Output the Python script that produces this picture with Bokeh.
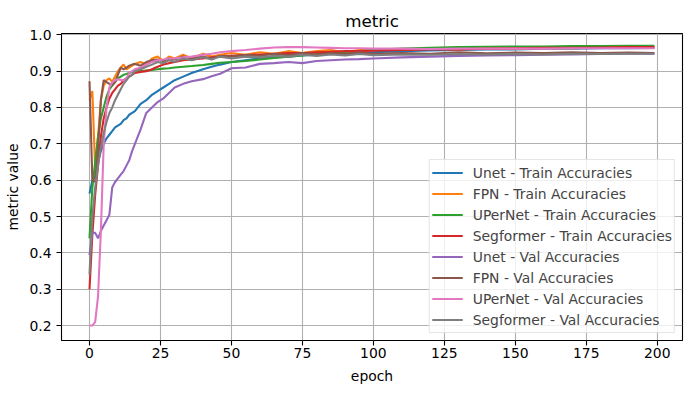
from bokeh.plotting import figure
from bokeh.models import Range1d, FixedTicker, Legend, LegendItem
from bokeh.embed import file_html
from bokeh.resources import INLINE

epochs = [0, 1, 2, 3, 4, 5, 6, 7, 8, 9, 10, 11, 12, 13, 14, 15, 16, 18, 20, 22, 24, 26, 28, 30,
          33, 36, 40, 43, 46, 50, 55, 60, 65, 70, 75, 80, 85, 90, 95, 100,
          110, 120, 130, 140, 150, 160, 170, 180, 190, 199]

unet_train = [0.563, 0.60, 0.61, 0.65, 0.68, 0.70, 0.715, 0.725, 0.735, 0.745, 0.75, 0.755, 0.765, 0.77, 0.78, 0.785, 0.79,
              0.81, 0.82, 0.835, 0.845, 0.855, 0.865, 0.875, 0.885, 0.895, 0.905, 0.912, 0.918, 0.925, 0.93, 0.935,
              0.938, 0.94, 0.943, 0.945, 0.947, 0.948, 0.95, 0.952, 0.955, 0.957, 0.958, 0.96, 0.96, 0.962, 0.962,
              0.963, 0.963, 0.964]
fpn_train = [0.82, 0.845, 0.63, 0.72, 0.82, 0.86, 0.875, 0.88, 0.87, 0.885, 0.90, 0.91, 0.918, 0.905, 0.91, 0.915, 0.92,
             0.925, 0.918, 0.935, 0.94, 0.928, 0.94, 0.935, 0.945, 0.935, 0.948, 0.94, 0.945, 0.95, 0.945, 0.952,
             0.948, 0.955, 0.95, 0.955, 0.958, 0.952, 0.958, 0.96, 0.958, 0.962, 0.96, 0.963, 0.962, 0.964, 0.963,
             0.965, 0.964, 0.965]
upernet_train = [0.44, 0.58, 0.65, 0.72, 0.77, 0.80, 0.83, 0.85, 0.86, 0.87, 0.88, 0.885, 0.89, 0.892, 0.895, 0.897, 0.898,
                 0.90, 0.902, 0.903, 0.905, 0.907, 0.908, 0.91, 0.912, 0.914, 0.917, 0.92, 0.923, 0.925, 0.928, 0.932,
                 0.936, 0.94, 0.943, 0.947, 0.95, 0.953, 0.955, 0.958, 0.962, 0.964, 0.966, 0.967, 0.968, 0.968, 0.969,
                 0.969, 0.97, 0.97]
segformer_train = [0.30, 0.45, 0.56, 0.64, 0.72, 0.77, 0.80, 0.825, 0.84, 0.85, 0.86, 0.865, 0.875, 0.88, 0.885, 0.89, 0.895,
                   0.898, 0.90, 0.905, 0.912, 0.918, 0.922, 0.925, 0.93, 0.932, 0.935, 0.938, 0.94, 0.942, 0.944, 0.946,
                   0.948, 0.95, 0.95, 0.952, 0.953, 0.955, 0.955, 0.956, 0.958, 0.96, 0.96, 0.962, 0.963, 0.964, 0.964,
                   0.965, 0.966, 0.966]
unet_val = [0.394, 0.456, 0.455, 0.44, 0.46, 0.475, 0.49, 0.505, 0.58, 0.595, 0.605, 0.615, 0.625, 0.64, 0.655, 0.68, 0.70,
            0.74, 0.785, 0.80, 0.815, 0.825, 0.84, 0.855, 0.865, 0.872, 0.878, 0.886, 0.893, 0.908, 0.91, 0.92,
            0.922, 0.925, 0.922, 0.928, 0.93, 0.932, 0.933, 0.935, 0.938, 0.94, 0.942, 0.943, 0.944, 0.945, 0.946,
            0.947, 0.948, 0.948]
fpn_val = [0.872, 0.60, 0.595, 0.68, 0.82, 0.875, 0.87, 0.865, 0.862, 0.87, 0.89, 0.91, 0.905, 0.91, 0.915, 0.918, 0.92,
           0.915, 0.925, 0.93, 0.932, 0.928, 0.935, 0.932, 0.94, 0.935, 0.94, 0.935, 0.942, 0.94, 0.945, 0.942,
           0.948, 0.944, 0.95, 0.946, 0.95, 0.947, 0.952, 0.948, 0.95, 0.948, 0.952, 0.949, 0.951, 0.95, 0.952,
           0.95, 0.951, 0.95]
upernet_val = [0.20, 0.20, 0.21, 0.28, 0.46, 0.70, 0.80, 0.855, 0.87, 0.875, 0.878, 0.876, 0.874, 0.88, 0.895, 0.90, 0.905,
               0.91, 0.918, 0.925, 0.93, 0.932, 0.935, 0.935, 0.938, 0.94, 0.945, 0.948, 0.952, 0.955, 0.958, 0.962,
               0.965, 0.966, 0.966, 0.965, 0.964, 0.963, 0.963, 0.962, 0.962, 0.961, 0.962, 0.962, 0.962, 0.962, 0.963,
               0.963, 0.963, 0.963]
segformer_val = [0.34, 0.50, 0.58, 0.64, 0.69, 0.73, 0.76, 0.785, 0.80, 0.82, 0.835, 0.85, 0.865, 0.875, 0.885, 0.89, 0.90,
                 0.905, 0.912, 0.918, 0.925, 0.922, 0.93, 0.926, 0.935, 0.93, 0.938, 0.932, 0.94, 0.935, 0.94, 0.938,
                 0.942, 0.94, 0.945, 0.942, 0.946, 0.943, 0.947, 0.944, 0.946, 0.945, 0.947, 0.946, 0.947, 0.946, 0.948,
                 0.947, 0.948, 0.948]

series = [
    ("Unet - Train Accuracies", unet_train, "#1f77b4"),
    ("FPN - Train Accuracies", fpn_train, "#ff7f0e"),
    ("UPerNet - Train Accuracies", upernet_train, "#2ca02c"),
    ("Segformer - Train Accuracies", segformer_train, "#d62728"),
    ("Unet - Val Accuracies", unet_val, "#9467bd"),
    ("FPN - Val Accuracies", fpn_val, "#8c564b"),
    ("UPerNet - Val Accuracies", upernet_val, "#e377c2"),
    ("Segformer - Val Accuracies", segformer_val, "#7f7f7f"),
]

x_ticks = [0, 25, 50, 75, 100, 125, 150, 175, 200]
y_ticks = [0.2, 0.3, 0.4, 0.5, 0.6, 0.7, 0.8, 0.9, 1.0]

FONT = "DejaVu Sans"
FS = "13.9px"

p = figure(width=690, height=392, output_backend="svg", toolbar_location=None,
           x_range=Range1d(-9.87, 208.9), y_range=Range1d(0.1588, 1.0036),
           min_border_left=61, min_border_right=8, min_border_top=33, min_border_bottom=52,
           title="metric")
p.title.align = "center"
p.title.text_font = FONT
p.title.text_font_size = "16.7px"
p.title.text_font_style = "normal"
p.title.text_color = "black"
p.title.offset = 0
p.title.standoff = 5

p.outline_line_color = "black"
p.outline_line_width = 1.1
p.outline_line_alpha = 1

for ax in (p.xaxis[0], p.yaxis[0]):
    ax.axis_line_color = None
    ax.major_tick_line_color = "black"
    ax.major_tick_line_width = 1.1
    ax.major_tick_out = 5
    ax.major_tick_in = 0
    ax.minor_tick_line_color = None
    ax.major_label_text_font = FONT
    ax.major_label_text_font_size = FS
    ax.major_label_text_color = "black"
    ax.axis_label_text_font = FONT
    ax.axis_label_text_font_size = FS
    ax.axis_label_text_font_style = "normal"
    ax.axis_label_text_color = "black"

p.xaxis.ticker = FixedTicker(ticks=x_ticks)
p.yaxis.ticker = FixedTicker(ticks=y_ticks)
p.yaxis.major_label_overrides = {v: f"{v:.1f}" for v in y_ticks}
p.xaxis.axis_label = "epoch"
p.yaxis.axis_label = "metric value"
p.xaxis.major_label_standoff = 2
p.yaxis.major_label_standoff = 5
p.xaxis.axis_label_standoff = 7
p.yaxis.axis_label_standoff = 5

p.xgrid.ticker = FixedTicker(ticks=x_ticks)
p.ygrid.ticker = FixedTicker(ticks=y_ticks)
p.grid.grid_line_color = "#b0b0b0"
p.grid.grid_line_width = 1.1

items = []
for name, vals, color in series:
    r = p.line(epochs, vals, line_color=color, line_width=2.1)
    items.append(LegendItem(label=name, renderers=[r]))

legend = Legend(items=items, location="bottom_right")
legend.label_text_font = FONT
legend.label_text_font_size = FS
legend.glyph_width = 31
legend.glyph_height = 21
legend.label_height = 21
legend.spacing = 0
legend.padding = 2
legend.margin = 7
legend.label_standoff = 10
legend.border_line_color = "#cccccc"
legend.border_line_width = 1
legend.background_fill_alpha = 0.8
p.add_layout(legend)

open("out.html", "w").write(file_html(p, INLINE))
